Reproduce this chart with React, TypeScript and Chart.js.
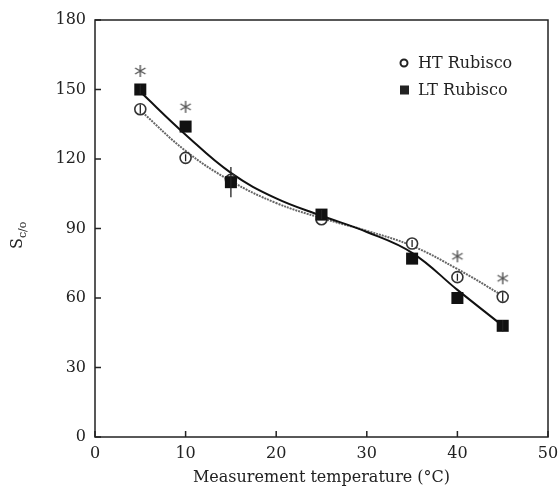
import React, { useEffect, useRef } from "react";
import { Chart, registerables } from "chart.js";

Chart.register(...registerables);

// Measured data
const temps = [5, 10, 15, 25, 35, 40, 45];
const htValues = [141.5, 120.5, 111, 94, 83.5, 69, 60.5];
const ltValues = [150, 134, 110, 96, 77, 60, 48];
const ltErrors = [2, 0, 6.5, 2, 0, 0, 2.5];
const htErrors = [2, 1.5, 0, 0, 1.5, 1.5, 2];

// Fitted curves
const fitTemps = [5, 10, 15, 20, 25, 30, 35, 40, 45];
const htFit = [141, 123.5, 110.5, 101, 94.5, 89, 82.5, 72.5, 61];
const ltFit = [149, 130.5, 114, 103, 95.5, 88.5, 79.5, 63.5, 48];

// Significance asterisks
const starTemps = [5, 10, 40, 45];
const starValues = [158, 142.5, 78, 68.5];

// Axis ticks
const xTicks = [0, 10, 20, 30, 40, 50];
const yTicks = [0, 30, 60, 90, 120, 150, 180];

const seriesLabels = ["HT Rubisco", "LT Rubisco"];
const xTitle = "Measurement temperature (\u00B0C)";

const FONT = "'DejaVu Serif', 'Liberation Serif', serif";
const INK = "#222";

const pts = (xs: number[], ys: number[]) => xs.map((x, i) => ({ x, y: ys[i] }));

function makeAsterisk(): HTMLCanvasElement {
  const c = document.createElement("canvas");
  c.width = 14;
  c.height = 14;
  const g = c.getContext("2d")!;
  g.strokeStyle = "#555";
  g.lineWidth = 1.4;
  g.beginPath();
  for (let k = 0; k < 3; k++) {
    const ang = Math.PI / 2 + (k * Math.PI) / 3;
    const dx = Math.cos(ang) * 6;
    const dy = Math.sin(ang) * 6;
    g.moveTo(7 - dx, 7 - dy);
    g.lineTo(7 + dx, 7 + dy);
  }
  g.stroke();
  return c;
}

const framePlugin = {
  id: "frameAndTicks",
  afterDraw(chart: any) {
    const { ctx, chartArea: a, scales } = chart;
    ctx.save();
    ctx.strokeStyle = INK;
    ctx.lineWidth = 1.5;
    ctx.strokeRect(a.left, a.top, a.right - a.left, a.bottom - a.top);
    ctx.beginPath();
    xTicks.forEach((v) => {
      const px = scales.x.getPixelForValue(v);
      ctx.moveTo(px, a.bottom);
      ctx.lineTo(px, a.bottom - 6);
    });
    yTicks.forEach((v) => {
      const py = scales.y.getPixelForValue(v);
      ctx.moveTo(a.left, py);
      ctx.lineTo(a.left + 6, py);
    });
    ctx.stroke();

    // y-axis title: S with subscript c/o, rotated
    ctx.translate(22, 249);
    ctx.rotate(-Math.PI / 2);
    ctx.fillStyle = INK;
    ctx.textBaseline = "alphabetic";
    ctx.textAlign = "left";
    ctx.font = `16px ${FONT}`;
    ctx.fillText("S", 0, 0);
    const w = ctx.measureText("S").width;
    ctx.font = `11px ${FONT}`;
    ctx.fillText("c/o", w, 4);
    ctx.restore();
  },
};

const errorBarPlugin = {
  id: "errorBars",
  afterDatasetsDraw(chart: any) {
    const { ctx, scales } = chart;
    ctx.save();
    ctx.strokeStyle = INK;
    ctx.lineWidth = 1.3;
    ctx.beginPath();
    const draw = (vals: number[], errs: number[]) => {
      temps.forEach((t, i) => {
        if (!errs[i]) return;
        const px = scales.x.getPixelForValue(t);
        ctx.moveTo(px, scales.y.getPixelForValue(vals[i] - errs[i]));
        ctx.lineTo(px, scales.y.getPixelForValue(vals[i] + errs[i]));
      });
    };
    draw(ltValues, ltErrors);
    draw(htValues, htErrors);
    ctx.stroke();
    ctx.restore();
  },
};

const legendPlugin = {
  id: "insideLegend",
  afterDraw(chart: any) {
    const { ctx, chartArea: a } = chart;
    const x0 = a.right - 144;
    const rows = [a.top + 43, a.top + 70];
    ctx.save();
    ctx.font = `16px ${FONT}`;
    ctx.textBaseline = "middle";
    ctx.textAlign = "left";
    ctx.beginPath();
    ctx.arc(x0, rows[0], 3.5, 0, Math.PI * 2);
    ctx.lineWidth = 2;
    ctx.strokeStyle = INK;
    ctx.fillStyle = "#fff";
    ctx.fill();
    ctx.stroke();
    ctx.fillStyle = INK;
    ctx.fillRect(x0 - 4, rows[1] - 4.5, 9, 9);
    ctx.fillText(seriesLabels[0], x0 + 14, rows[0] + 1);
    ctx.fillText(seriesLabels[1], x0 + 14, rows[1] + 1);
    ctx.restore();
  },
};

export default function App() {
  const ref = useRef<HTMLCanvasElement | null>(null);

  useEffect(() => {
    if (!ref.current) return;
    const star = makeAsterisk();
    const chart = new Chart(ref.current, {
      type: "scatter",
      data: {
        datasets: [
          {
            label: seriesLabels[1],
            data: pts(temps, ltValues),
            pointStyle: "rect",
            pointRadius: 8.5,
            backgroundColor: "#111",
            borderColor: "#111",
            borderWidth: 0,
            showLine: false,
          },
          {
            label: seriesLabels[0],
            data: pts(temps, htValues),
            pointStyle: "circle",
            pointRadius: 5.5,
            backgroundColor: "#fff",
            borderColor: "#333",
            borderWidth: 1.6,
            showLine: false,
          },
          {
            label: "stars",
            data: pts(starTemps, starValues),
            pointStyle: star,
            pointRadius: 7,
            showLine: false,
          },
          {
            label: "LT fit",
            data: pts(fitTemps, ltFit),
            showLine: true,
            pointRadius: 0,
            borderColor: "#111",
            borderWidth: 2,
            tension: 0.4,
          },
          {
            label: "HT fit",
            data: pts(fitTemps, htFit),
            showLine: true,
            pointRadius: 0,
            borderColor: "#666",
            borderWidth: 2,
            borderDash: [2, 1],
            tension: 0.4,
          },
        ] as any,
      },
      options: {
        animation: false,
        responsive: true,
        maintainAspectRatio: false,
        layout: { padding: { top: 20, right: 10, left: 0, bottom: 0 } },
        plugins: {
          legend: { display: false },
          tooltip: { enabled: false },
        },
        scales: {
          x: {
            type: "linear",
            min: 0,
            max: 50,
            afterBuildTicks: (s: any) => {
              s.ticks = xTicks.map((v) => ({ value: v }));
            },
            ticks: { font: { family: FONT, size: 16 }, color: INK, padding: 7 },
            grid: { display: false, drawTicks: false },
            border: { display: false },
            title: {
              display: true,
              text: xTitle,
              font: { family: FONT, size: 16 },
              color: INK,
              padding: { top: 6, bottom: 8 },
            },
            afterFit: (s: any) => {
              s.height = 58;
              s.paddingLeft = 0;
              s.paddingRight = 0;
            },
          },
          y: {
            type: "linear",
            min: 0,
            max: 180,
            afterBuildTicks: (s: any) => {
              s.ticks = yTicks.map((v) => ({ value: v }));
            },
            ticks: { font: { family: FONT, size: 16 }, color: INK, padding: 9 },
            grid: { display: false, drawTicks: false },
            border: { display: false },
            afterFit: (s: any) => {
              s.width = 95;
            },
          },
        },
      },
      plugins: [framePlugin, errorBarPlugin, legendPlugin],
    });
    return () => chart.destroy();
  }, []);

  return (
    <div style={{ position: "fixed", left: 0, top: 0, width: 558, height: 495, background: "#fff" }}>
      <canvas ref={ref} />
    </div>
  );
}
